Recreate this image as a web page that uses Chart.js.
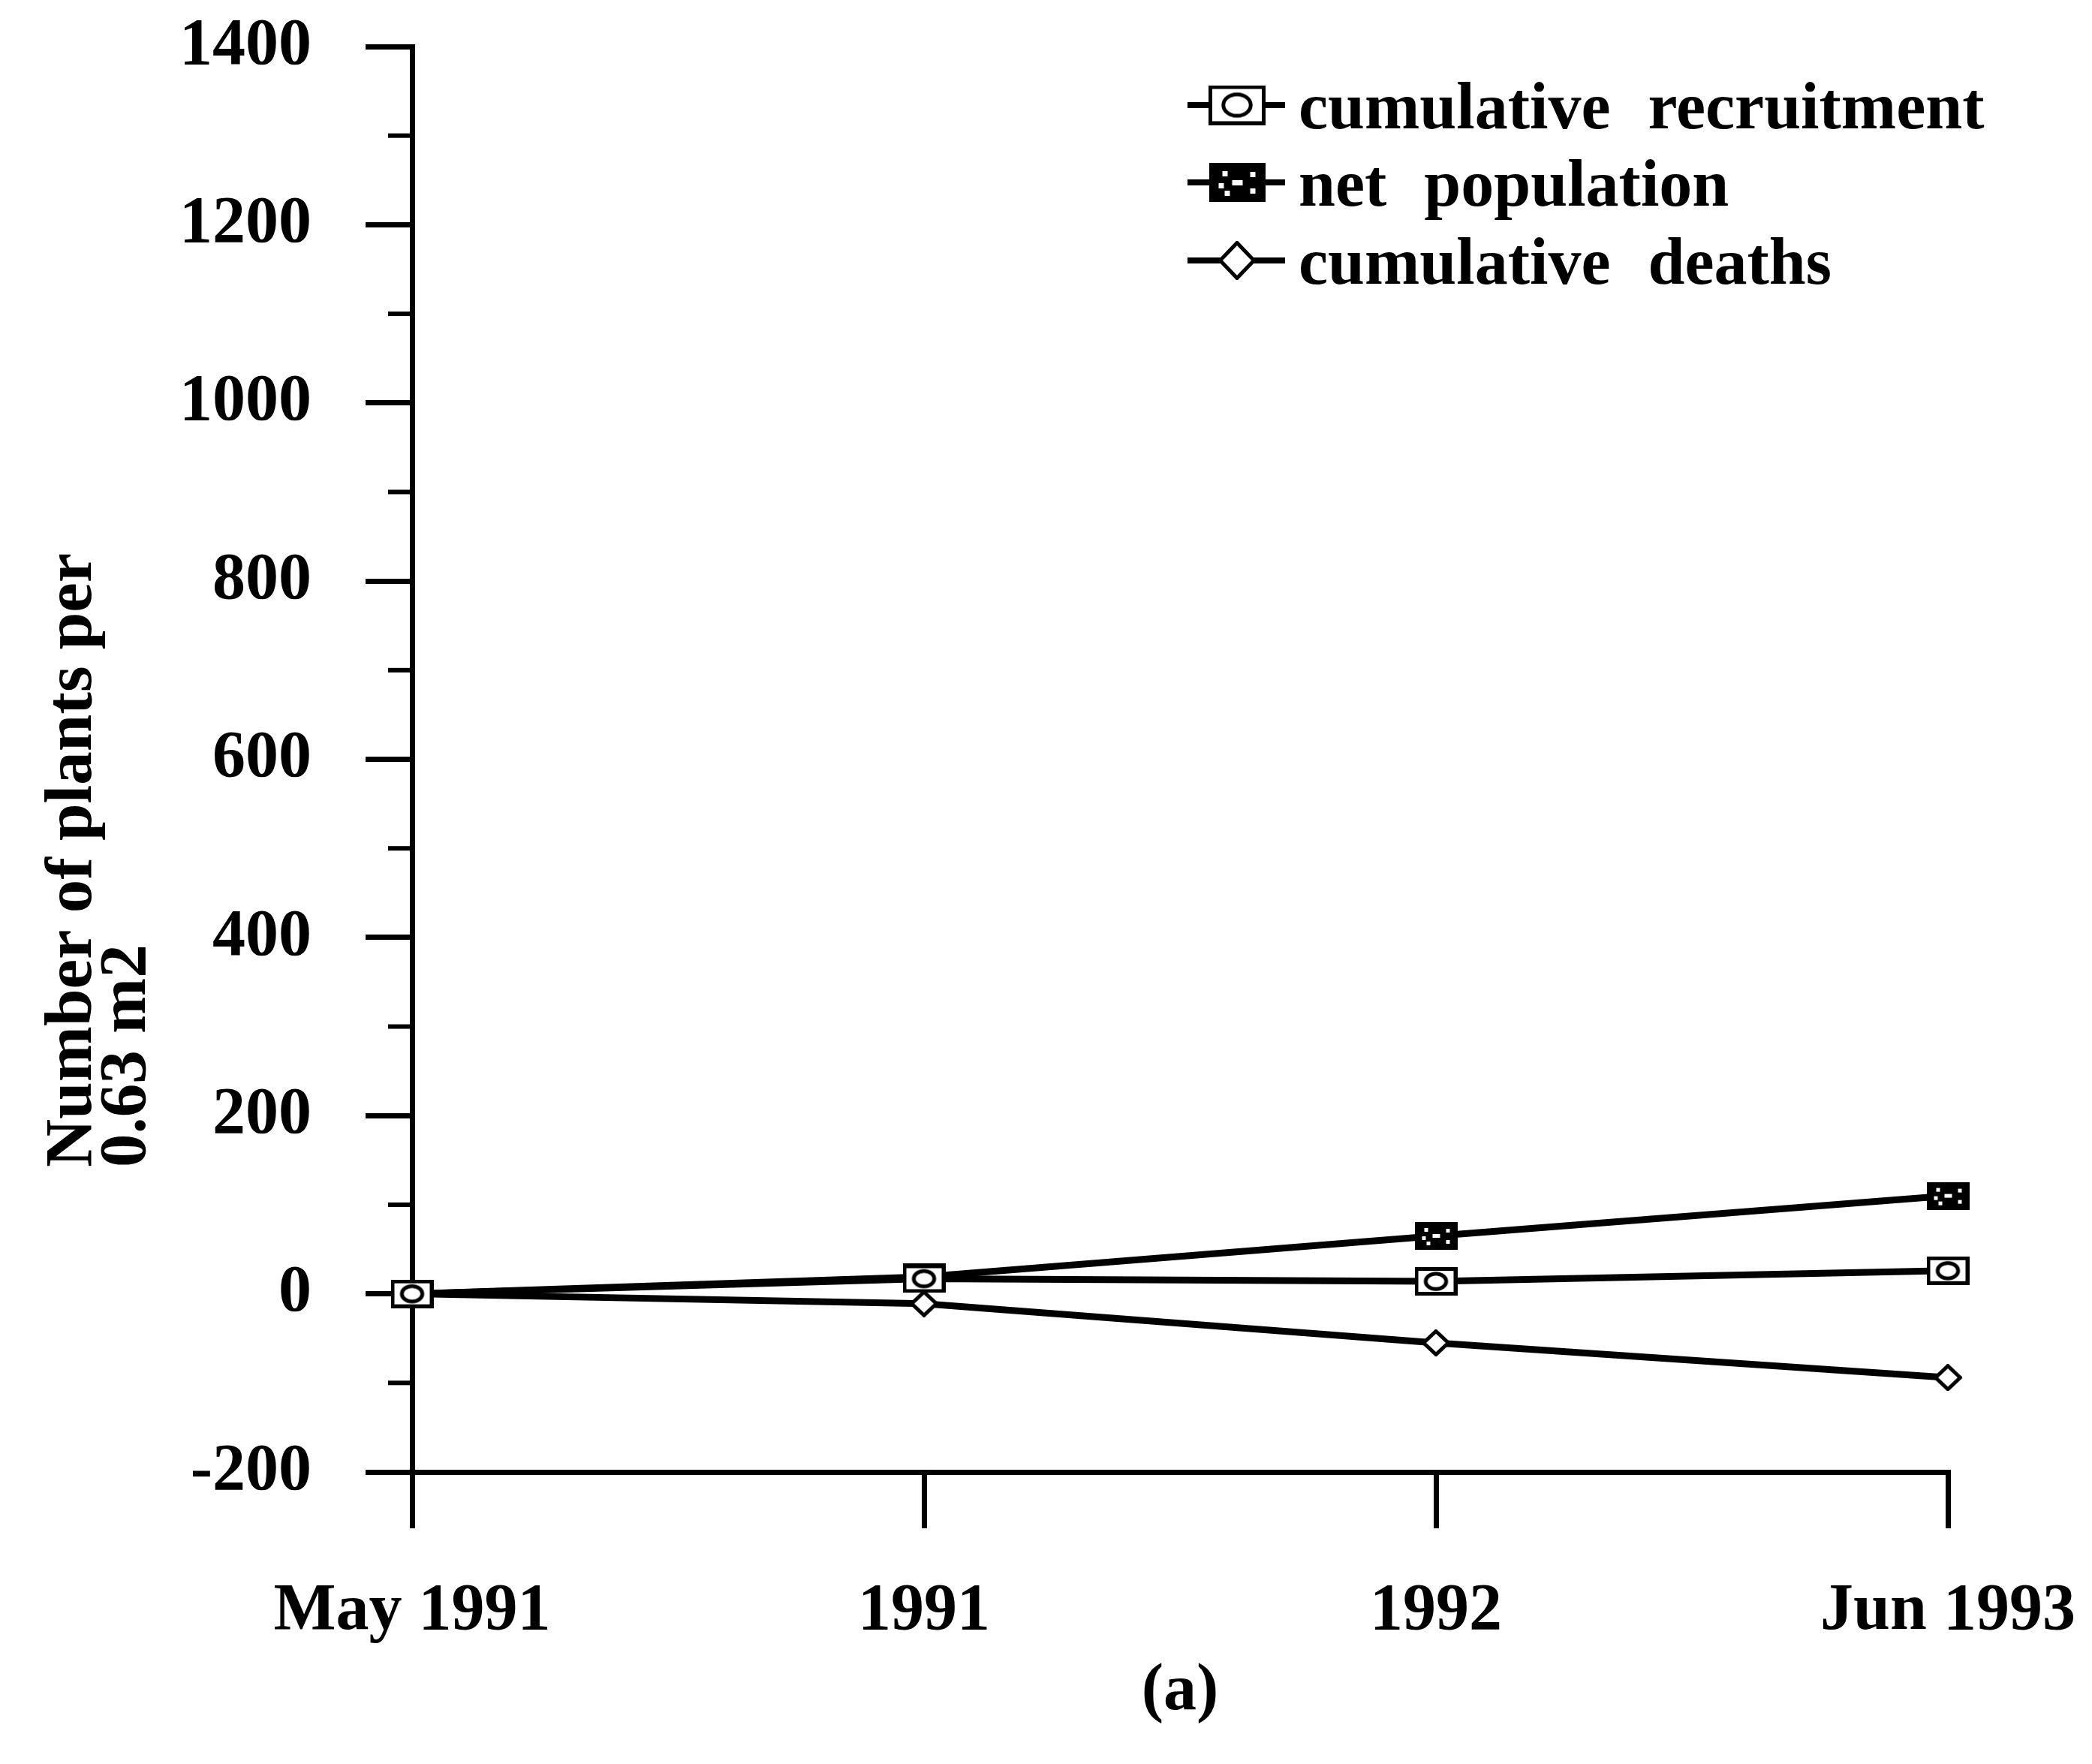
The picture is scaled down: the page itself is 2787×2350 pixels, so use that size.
<!DOCTYPE html>
<html>
<head>
<meta charset="utf-8">
<script src="https://cdn.jsdelivr.net/npm/chart.js@4.4.0/dist/chart.umd.min.js"></script>
<style>
  html, body { margin: 0; padding: 0; background: #ffffff; }
  #wrap { width: 2787px; height: 2350px; }
</style>
</head>
<body>
<div id="wrap"><canvas id="c" width="2787" height="2350"></canvas></div>
<script>
// Sampling dates along the x axis
const categories = ['May 1991', '1991', '1992', 'Jun 1993'];

// Plants per 0.63 m2 at each date
const recruitment = [0, 17, 14, 26];
const netPopulation = [0, 19, 65, 110];
const deaths = [0, -11, -55, -94];

const seriesLabels = ['cumulative recruitment', 'net population', 'cumulative deaths'];

// Value axis range: labelled every 200, short ticks every 100
const yMin = -200;
const yMax = 1400;
const yMinorStep = 100;
const yLabelStep = 200;

const yTitle = ['Number of plants per', '0.63 m2'];
const xTitle = '(a)';

const FONT = 'Liberation Serif';
const INK = '#000000';

// Marker glyphs: boxed ring, speckled box, open diamond
function makeMarker(kind, w, h) {
  const c = document.createElement('canvas');
  c.width = w; c.height = h;
  const g = c.getContext('2d');
  const lw = 5;
  g.lineWidth = lw;
  g.strokeStyle = INK;
  g.fillStyle = '#ffffff';
  if (kind === 'diamond') {
    g.beginPath();
    g.moveTo(w / 2, lw / 2);
    g.lineTo(w - lw / 2, h / 2);
    g.lineTo(w / 2, h - lw / 2);
    g.lineTo(lw / 2, h / 2);
    g.closePath();
    g.fill();
    g.stroke();
  } else if (kind === 'ring') {
    g.fillRect(0, 0, w, h);
    g.strokeRect(lw / 2, lw / 2, w - lw, h - lw);
    g.beginPath();
    g.ellipse(w / 2, h / 2, w * 0.24, h * 0.27, 0, 0, Math.PI * 2);
    g.stroke();
  } else {
    g.fillStyle = INK;
    g.fillRect(0, 0, w, h);
    g.fillStyle = '#ffffff';
    const s = Math.max(4, Math.round(w * 0.09));
    const spots = [[0.28, 0.28], [0.78, 0.3], [0.22, 0.58], [0.5, 0.5], [0.78, 0.72], [0.32, 0.78]];
    spots.forEach(([fx, fy]) => g.fillRect(Math.round(w * fx - s / 2), Math.round(h * fy - s / 2), s, s));
    g.fillRect(Math.round(w * 0.5 - s), Math.round(h * 0.5 - s / 2), s * 2, s);
  }
  return c;
}

const plotMarks = [makeMarker('ring', 57, 38), makeMarker('speckle', 57, 37), makeMarker('diamond', 38, 36)];
const legendMarks = [makeMarker('ring', 76, 53), makeMarker('speckle', 75, 52), makeMarker('diamond', 50, 52)];

// Short unlabelled ticks at the odd hundreds
const minorTicks = {
  id: 'minorTicks',
  afterDraw(chart) {
    const y = chart.scales.y;
    const ctx = chart.ctx;
    const left = chart.chartArea.left;
    ctx.save();
    ctx.strokeStyle = INK;
    ctx.lineWidth = 6;
    for (let v = yMin; v <= yMax; v += yMinorStep) {
      if (v % yLabelStep === 0) continue;
      const py = y.getPixelForValue(v);
      ctx.beginPath();
      ctx.moveTo(left - 32, py);
      ctx.lineTo(left, py);
      ctx.stroke();
    }
    ctx.restore();
  }
};

// Two-line rotated title for the value axis, both lines starting at the same height
const valueAxisTitle = {
  id: 'valueAxisTitle',
  afterDraw(chart) {
    const ctx = chart.ctx;
    ctx.save();
    ctx.fillStyle = INK;
    ctx.font = 'bold 89px "' + FONT + '"';
    ctx.textAlign = 'left';
    ctx.textBaseline = 'alphabetic';
    const baselines = [121, 193];
    yTitle.forEach((line, i) => {
      ctx.save();
      ctx.translate(baselines[i], 1555);
      ctx.rotate(-Math.PI / 2);
      ctx.fillText(line, 0, 0);
      ctx.restore();
    });
    ctx.restore();
  }
};

// Key in the upper right of the plot: line stub, marker, label
const keyBox = {
  id: 'keyBox',
  afterDraw(chart) {
    const ctx = chart.ctx;
    const rows = [140, 243, 347];
    const lineX0 = 1582, lineX1 = 1712, markX = 1648, textX = 1730;
    ctx.save();
    ctx.strokeStyle = INK;
    ctx.fillStyle = INK;
    ctx.lineWidth = 8;
    ctx.font = 'bold 88px "' + FONT + '"';
    ctx.textAlign = 'left';
    ctx.textBaseline = 'alphabetic';
    if ('wordSpacing' in ctx) ctx.wordSpacing = '28px';
    chart.data.datasets.forEach((ds, i) => {
      const cy = rows[i];
      ctx.beginPath();
      ctx.moveTo(lineX0, cy);
      ctx.lineTo(lineX1, cy);
      ctx.stroke();
      const m = legendMarks[i];
      ctx.drawImage(m, markX - m.width / 2, cy - m.height / 2);
      ctx.fillText(ds.label, textX, cy + 31);
    });
    ctx.restore();
  }
};

function series(i, data) {
  return {
    label: seriesLabels[i],
    data: data,
    borderColor: INK,
    borderWidth: 9,
    backgroundColor: INK,
    pointStyle: plotMarks[i],
    pointRadius: 30,
    tension: 0,
    fill: false,
    clip: false
  };
}

new Chart(document.getElementById('c').getContext('2d'), {
  type: 'line',
  data: {
    labels: categories,
    datasets: [series(0, recruitment), series(1, netPopulation), series(2, deaths)]
  },
  options: {
    responsive: false,
    animation: false,
    devicePixelRatio: 1,
    layout: { padding: { top: 62, right: 192, bottom: 0, left: 0 } },
    plugins: { legend: { display: false }, tooltip: { enabled: false } },
    scales: {
      x: {
        type: 'category',
        offset: false,
        grid: { drawOnChartArea: false, color: INK, lineWidth: 7, tickLength: 75, tickWidth: 7 },
        border: { color: INK, width: 7 },
        ticks: {
          color: INK,
          font: { family: FONT, size: 88, weight: 'bold' },
          padding: 58,
          maxRotation: 0,
          autoSkip: false
        },
        title: {
          display: true,
          text: xTitle,
          color: INK,
          font: { family: FONT, size: 88, weight: 'bold' },
          padding: { top: 0, bottom: 43 }
        },
        afterFit(scale) {
          scale.height = 2350 - 1961;
          scale.paddingLeft = 0;
          scale.paddingRight = 0;
        }
      },
      y: {
        min: yMin,
        max: yMax,
        grid: {
          drawOnChartArea: false,
          lineWidth: 7,
          tickLength: 62,
          tickWidth: 7,
          color: INK,
          tickColor: (c) => (c.tick && c.tick.value % yLabelStep === 0 ? INK : 'rgba(0,0,0,0)')
        },
        border: { color: INK, width: 7 },
        ticks: {
          stepSize: yMinorStep,
          color: INK,
          font: { family: FONT, size: 88, weight: 'bold' },
          padding: 72,
          callback: (v) => (v % yLabelStep === 0 ? String(v) : '')
        },
        afterFit(scale) {
          scale.width = 549;
          scale.paddingTop = 0;
          scale.paddingBottom = 0;
        }
      }
    }
  },
  plugins: [minorTicks, valueAxisTitle, keyBox]
});
</script>
</body>
</html>
